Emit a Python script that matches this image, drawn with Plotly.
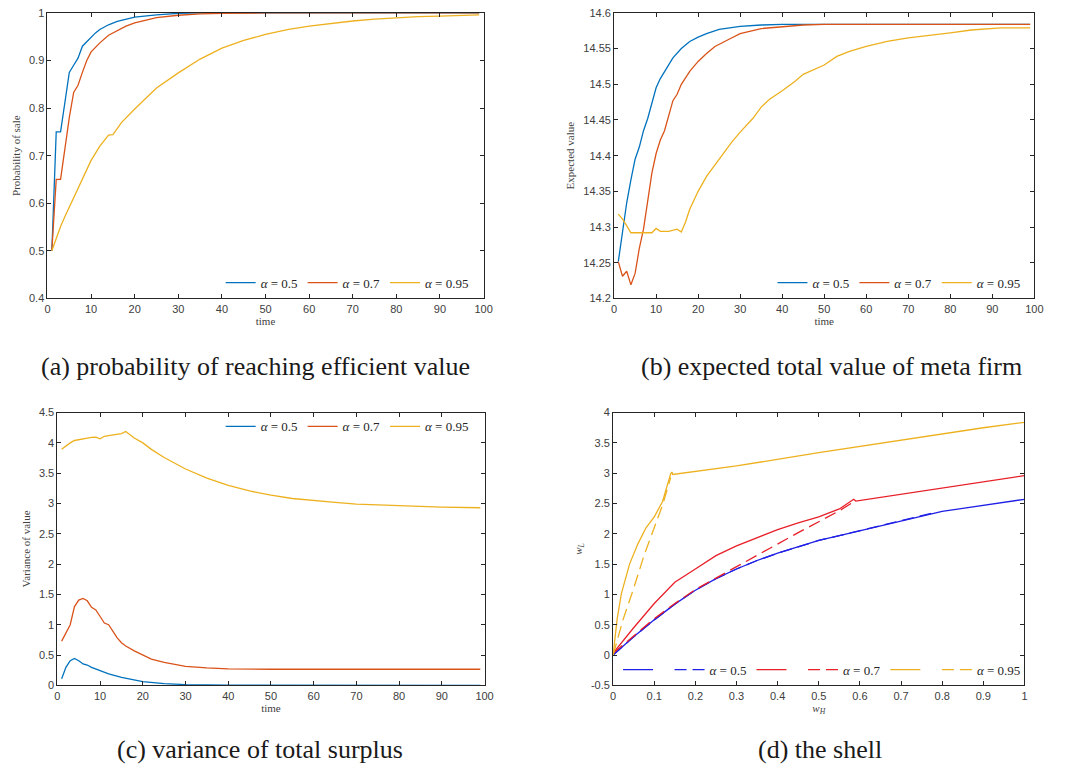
import plotly.graph_objects as go

# ---------------- data ----------------
# (a) probability of sale
ta_05 = [1, 2, 3, 4, 5, 6, 7, 8, 9, 10, 11, 12, 14, 16, 18, 20, 25, 30, 35, 40, 99]
pa_05 = [0.5, 0.75, 0.75, 0.81, 0.875, 0.89, 0.905, 0.93, 0.94, 0.948, 0.958, 0.965, 0.975,
         0.982, 0.987, 0.991, 0.996, 0.999, 1.0, 1.0, 1.0]
ta_07 = [1, 2, 3, 4, 5, 6, 7, 8, 9, 10, 12, 14, 16, 18, 20, 25, 30, 35, 40, 50, 99]
pa_07 = [0.5, 0.65, 0.65, 0.72, 0.78, 0.833, 0.848, 0.875, 0.9, 0.918, 0.937, 0.953, 0.963,
         0.972, 0.979, 0.99, 0.995, 0.998, 0.999, 1.0, 1.0]
ta_095 = [1, 2, 3, 4, 5, 6, 8, 10, 12, 14, 15, 17, 20, 25, 30, 35, 40, 45, 50, 55, 60, 65,
          70, 75, 80, 85, 90, 95, 99]
pa_095 = [0.5, 0.527, 0.551, 0.572, 0.592, 0.612, 0.652, 0.69, 0.72, 0.743, 0.744, 0.77,
          0.798, 0.842, 0.874, 0.903, 0.926, 0.942, 0.955, 0.965, 0.972, 0.978, 0.983,
          0.987, 0.99, 0.992, 0.993, 0.995, 0.996]

# (b) expected value
tb_05 = [1, 2, 3, 4, 5, 6, 7, 8, 9, 10, 11, 12, 14, 16, 18, 20, 22, 25, 30, 35, 40, 50, 99]
vb_05 = [14.2515, 14.295, 14.334, 14.366, 14.395, 14.412, 14.435, 14.452, 14.475, 14.495,
         14.508, 14.518, 14.537, 14.550, 14.560, 14.566, 14.571, 14.577, 14.581, 14.583,
         14.584, 14.584, 14.584]
tb_07 = [1, 2, 3, 4, 5, 6, 7, 8, 9, 10, 11, 12, 13, 14, 15, 16, 18, 20, 22, 24, 27, 30, 35,
         40, 45, 50, 99]
vb_07 = [14.2515, 14.231, 14.238, 14.219, 14.235, 14.27, 14.297, 14.339, 14.376, 14.403,
         14.422, 14.435, 14.458, 14.477, 14.486, 14.5, 14.518, 14.532, 14.543, 14.553,
         14.562, 14.571, 14.578, 14.581, 14.583, 14.584, 14.584]
tb_095 = [1, 2, 3, 4, 5, 9, 10, 11, 13, 15, 16, 17, 18, 19, 20, 22, 24, 26, 28, 30, 33, 35,
          37, 40, 43, 45, 50, 53, 56, 60, 65, 70, 75, 80, 85, 90, 92, 99]
vb_095 = [14.318, 14.311, 14.302, 14.292, 14.292, 14.292, 14.298, 14.294, 14.294, 14.297,
          14.293, 14.307, 14.325, 14.337, 14.35, 14.371, 14.387, 14.403, 14.419, 14.433,
          14.452, 14.468, 14.479, 14.491, 14.504, 14.514, 14.527, 14.539, 14.546, 14.553,
          14.56, 14.565, 14.568, 14.572, 14.576, 14.578, 14.579, 14.579]

# (c) variance
tc_05 = [1, 2, 3, 4, 5, 6, 7, 8, 10, 12, 15, 18, 20, 25, 30, 40, 99]
vc_05 = [0.108, 0.297, 0.406, 0.443, 0.406, 0.352, 0.335, 0.297, 0.243, 0.19, 0.13, 0.081,
         0.06, 0.027, 0.011, 0.002, 0.0]
tc_07 = [1, 2, 3, 4, 5, 6, 7, 8, 9, 10, 11, 12, 13, 14, 15, 16, 18, 20, 22, 25, 30, 35, 40,
         50, 99]
vc_07 = [0.73, 0.865, 1.0, 1.30, 1.406, 1.433, 1.395, 1.287, 1.244, 1.136, 1.027, 1.0, 0.892,
         0.784, 0.703, 0.649, 0.568, 0.498, 0.433, 0.379, 0.314, 0.287, 0.27, 0.265, 0.265]
tc_095 = [1, 2, 3, 4, 5, 6, 7, 8, 9, 10, 11, 12, 14, 15, 16, 17, 18, 20, 22, 25, 30, 35, 40,
          45, 50, 55, 60, 65, 70, 80, 90, 99]
vc_095 = [3.894, 3.95, 4.0, 4.04, 4.056, 4.067, 4.078, 4.09, 4.094, 4.067, 4.11, 4.12, 4.137,
          4.153, 4.19, 4.137, 4.08, 4.0, 3.894, 3.76, 3.57, 3.418, 3.30, 3.207, 3.137, 3.083,
          3.045, 3.018, 2.99, 2.964, 2.942, 2.93]

# (d) the shell
wh_05 = [0, 0.05, 0.1, 0.15, 0.2, 0.25, 0.3, 0.35, 0.4, 0.45, 0.5, 0.55, 0.6, 0.65, 0.7,
         0.75, 0.78, 0.8, 0.85, 0.9, 0.95, 1.0]
wl_05 = [0, 0.3, 0.58, 0.84, 1.07, 1.26, 1.42, 1.56, 1.68, 1.79, 1.89, 1.97, 2.05, 2.13,
         2.21, 2.29, 2.35, 2.37, 2.42, 2.47, 2.52, 2.57]
wh_05d = [0, 0.05, 0.1, 0.15, 0.2, 0.25, 0.3, 0.35, 0.4, 0.45, 0.5, 0.55, 0.6, 0.65, 0.7,
          0.75, 0.78]
wl_05d = [0, 0.3, 0.58, 0.84, 1.07, 1.26, 1.42, 1.56, 1.68, 1.79, 1.89, 1.97, 2.05, 2.13,
          2.21, 2.29, 2.35]
wh_07 = [0, 0.05, 0.1, 0.15, 0.2, 0.25, 0.3, 0.35, 0.4, 0.45, 0.5, 0.55, 0.585, 0.59, 0.7,
         0.8, 0.9, 1.0]
wl_07 = [0.03, 0.45, 0.85, 1.2, 1.42, 1.64, 1.80, 1.94, 2.07, 2.18, 2.28, 2.41, 2.57, 2.54,
         2.65, 2.75, 2.85, 2.96]
wh_07d = [0, 0.05, 0.1, 0.15, 0.2, 0.25, 0.3, 0.35, 0.4, 0.45, 0.5, 0.55, 0.585]
wl_07d = [0.03, 0.32, 0.6, 0.85, 1.08, 1.27, 1.46, 1.65, 1.84, 2.02, 2.2, 2.38, 2.53]
wh_095 = [0, 0.01, 0.02, 0.04, 0.06, 0.08, 0.1, 0.12, 0.14, 0.143, 0.145, 0.3, 0.5, 0.7,
          0.9, 1.0]
wl_095 = [0, 0.6, 1.01, 1.5, 1.83, 2.1, 2.28, 2.53, 2.99, 3.02, 2.98, 3.12, 3.34, 3.55,
          3.75, 3.84]
wh_095d = [0, 0.024, 0.05, 0.076, 0.1, 0.12, 0.14]
wl_095d = [0, 0.58, 1.1, 1.66, 2.1, 2.47, 2.93]

labels = ["<i>α</i> = 0.5", "<i>α</i> = 0.7", "<i>α</i> = 0.95"]

ticks_a = [0.4, 0.5, 0.6, 0.7, 0.8, 0.9, 1]
ticks_b = [14.2, 14.25, 14.3, 14.35, 14.4, 14.45, 14.5, 14.55, 14.6]
ticks_c = [0, 0.5, 1, 1.5, 2, 2.5, 3, 3.5, 4, 4.5]
ticks_dy = [-0.5, 0, 0.5, 1, 1.5, 2, 2.5, 3, 3.5, 4]
ticks_dx = [0, 0.1, 0.2, 0.3, 0.4, 0.5, 0.6, 0.7, 0.8, 0.9, 1]
ticks_t = [0, 10, 20, 30, 40, 50, 60, 70, 80, 90, 100]

# ---------------- style ----------------
C = ["#0072BD", "#D95319", "#EDB120"]
CD = ["#1f1fe6", "#e8202a", "#EDB120"]
LW = 1.3
SERIF = "Liberation Serif, Times New Roman, serif"
SANS = "Liberation Sans, Arial, sans-serif"


def fmt(v):
    return "%g" % v


fig = go.Figure()

for i, (t, y) in enumerate([(ta_05, pa_05), (ta_07, pa_07), (ta_095, pa_095)]):
    fig.add_trace(go.Scatter(x=t, y=y, mode="lines", name=labels[i],
                             line=dict(color=C[i], width=LW), xaxis="x", yaxis="y",
                             legend="legend"))
for i, (t, y) in enumerate([(tb_05, vb_05), (tb_07, vb_07), (tb_095, vb_095)]):
    fig.add_trace(go.Scatter(x=t, y=y, mode="lines", name=labels[i],
                             line=dict(color=C[i], width=LW), xaxis="x2", yaxis="y2",
                             legend="legend2"))
for i, (t, y) in enumerate([(tc_05, vc_05), (tc_07, vc_07), (tc_095, vc_095)]):
    fig.add_trace(go.Scatter(x=t, y=y, mode="lines", name=labels[i],
                             line=dict(color=C[i], width=LW), xaxis="x3", yaxis="y3",
                             legend="legend3"))
dpairs = [((wh_05, wl_05), (wh_05d, wl_05d)),
          ((wh_07, wl_07), (wh_07d, wl_07d)),
          ((wh_095, wl_095), (wh_095d, wl_095d))]
for i, ((xs, ys), (xd, yd)) in enumerate(dpairs):
    fig.add_trace(go.Scatter(x=xs, y=ys, mode="lines", name="\u2002",
                             line=dict(color=CD[i], width=LW), xaxis="x4", yaxis="y4",
                             legend="legend4"))
    fig.add_trace(go.Scatter(x=xd, y=yd, mode="lines", name=labels[i],
                             line=dict(color=CD[i], width=LW, dash="12px,6px"),
                             xaxis="x4", yaxis="y4", legend="legend4"))

W, H = 1073, 776


def dx(a, b):
    return [a / W, b / W]


def dy(top, bottom):
    return [1 - bottom / H, 1 - top / H]


def ax(domain, anchor, rng, tickvals, title, standoff):
    return dict(domain=domain, anchor=anchor, range=rng, tickvals=tickvals,
                ticktext=[fmt(v) for v in tickvals],
                showline=True, mirror="ticks", linecolor="#262626", linewidth=1,
                ticks="inside", ticklen=4, tickcolor="#262626", showgrid=False,
                zeroline=False, tickfont=dict(family=SANS, size=11, color="#404040"),
                title=dict(text=title, font=dict(family=SERIF, size=11, color="#404040"),
                           standoff=standoff))


layout = dict(
    width=W, height=H, margin=dict(l=0, r=0, t=0, b=0),
    paper_bgcolor="white", plot_bgcolor="white", showlegend=True,
    xaxis=ax(dx(45, 486), "y", [0, 100], ticks_t, "time", 2),
    yaxis=ax(dy(7, 297), "x", [0.4, 1], ticks_a, "Probability of sale", 6),
    xaxis2=ax(dx(618, 1043), "y2", [0, 100], ticks_t, "time", 2),
    yaxis2=ax(dy(7, 297), "x2", [14.2, 14.6], ticks_b, "Expected value", 6),
    xaxis3=ax(dx(55, 487), "y3", [0, 100], ticks_t, "time", 2),
    yaxis3=ax(dy(413, 690), "x3", [0, 4.5], ticks_c, "Variance of value", 6),
    xaxis4=ax(dx(617, 1033), "y4", [0, 1], ticks_dx, "<i>w<sub>H</sub></i>", 2),
    yaxis4=ax(dy(413, 690), "x4", [-0.5, 4], ticks_dy, "<i>w<sub>L</sub></i>", 6),
)

leg_common = dict(orientation="h", bgcolor="rgba(255,255,255,0)", borderwidth=0,
                  font=dict(family=SERIF, size=13, color="#262626"),
                  itemclick=False, itemdoubleclick=False, tracegroupgap=0)
layout["legend"] = dict(leg_common, x=476 / W, y=1 - 281 / H, xanchor="right",
                        yanchor="middle")
layout["legend2"] = dict(leg_common, x=1034 / W, y=1 - 281 / H, xanchor="right",
                         yanchor="middle")
layout["legend3"] = dict(leg_common, x=476 / W, y=1 - 427 / H, xanchor="right",
                         yanchor="middle")
layout["legend4"] = dict(leg_common, x=622 / W, y=1 - 674 / H, xanchor="left",
                         yanchor="middle")

captions = [("(a) probability of reaching efficient value", 255, 366),
            ("(b) expected total value of meta firm", 838, 366),
            ("(c) variance of total surplus", 260, 755),
            ("(d) the shell", 826, 755)]
layout["annotations"] = [
    dict(text=txt, x=cx / W, y=1 - cy / H, xref="paper", yref="paper", showarrow=False,
         xanchor="center", yanchor="middle",
         font=dict(family=SERIF, size=26, color="#1a1a1a"))
    for txt, cx, cy in captions]

fig.update_layout(layout)
fig.write_html("out.html",
               config={"displayModeBar": False},
               post_script="document.body.style.margin='0';"
                           "document.body.style.padding='0';")
